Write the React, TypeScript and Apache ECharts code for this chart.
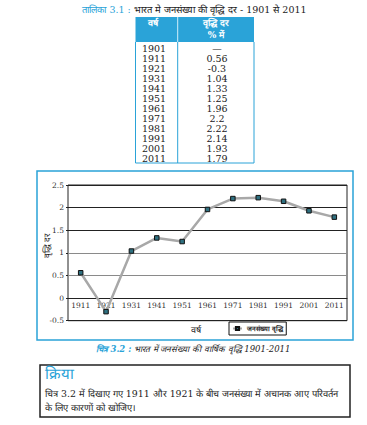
import React, { useEffect, useRef } from "react";
import * as echarts from "echarts";

const years = ["1901", "1911", "1921", "1931", "1941", "1951", "1961", "1971", "1981", "1991", "2001", "2011"];
const rateText = ["—", "0.56", "-0.3", "1.04", "1.33", "1.25", "1.96", "2.2", "2.22", "2.14", "1.93", "1.79"];
const rates: (number | null)[] = [null, 0.56, -0.3, 1.04, 1.33, 1.25, 1.96, 2.2, 2.22, 2.14, 1.93, 1.79];

const chartYears = years.slice(1);
const chartRates = rates.slice(1);

const seriesName = "जनसंख्या वृद्धि";
const tableTitle = "तालिका 3.1 :";
const tableTitleRest = " भारत मे जनसंख्या की वृद्धि दर - 1901 से 2011";
const headYear = "वर्ष";
const headRate1 = "वृद्धि दर";
const headRate2 = "% में";
const yName = "वृद्धि दर";
const xName = "वर्ष";
const captionLead = "चित्र 3.2 :";
const captionRest = " भारत में जनसंख्या की वार्षिक वृद्धि 1901-2011";
const boxTitle = "क्रिया";
const boxLine1 = "चित्र 3.2 में दिखाए गए 1911 और 1921 के बीच जनसंख्या में अचानक आए परिवर्तन";
const boxLine2 = "के लिए कारणों को खोजिए।";

const BLUE = "#2aa3d8";
const SERIF = "'DejaVu Serif', 'Liberation Serif', serif";

export default function App() {
  const ref = useRef<HTMLDivElement>(null);
  useEffect(() => {
    if (!ref.current) return;
    const chart = echarts.init(ref.current, null, { renderer: "svg" });

    const tableTop = 17;
    const headH = 25;
    const tL = 135.5;
    const tR = 254;
    const tMid = 177.7;
    const rowY0 = 48.3;
    const rowH = 10.06;
    const tBottom = 163;

    const gridTop = 185;
    const gridBottom = 104.3;
    const plotH = 425 - gridTop - gridBottom;
    const yMin = -0.5;
    const yMax = 2.5;
    const zeroOffset = (plotH * (0 - yMin)) / (yMax - yMin);

    const txt = (text: string, x: number, y: number, extra: any = {}, el: any = {}) => ({
      type: "text",
      ...el,
      style: {
        text, x, y, fontSize: 9, fontFamily: SERIF, fill: "#222",
        align: "center", verticalAlign: "middle", textAlign: "center", textVerticalAlign: "middle",
        ...extra,
      },
    });

    const tableRows: any[] = [];
    years.forEach((y, i) => {
      tableRows.push(txt(y, 154, rowY0 + i * rowH, { fontSize: 9.5 }));
      tableRows.push(txt(rateText[i], 217, rowY0 + i * rowH, { fontSize: 9.5 }));
    });

    chart.setOption({
      animation: false,
      grid: {
        left: 68, right: 20, top: gridTop, bottom: gridBottom,
        show: true, borderColor: "#222", borderWidth: 1, backgroundColor: "transparent",
      },
      xAxis: {
        type: "category",
        data: chartYears,
        boundaryGap: true,
        position: "bottom",
        offset: -zeroOffset,
        axisLine: { onZero: false, lineStyle: { color: "#222", width: 1 } },
        axisTick: { show: false },
        axisLabel: { interval: 0, fontSize: 7.5, fontFamily: SERIF, color: "#333", margin: 3 },
        splitLine: { show: false },
      },
      yAxis: {
        type: "value",
        min: yMin,
        max: yMax,
        interval: 0.5,
        axisLine: { show: false },
        axisTick: { show: true, length: 2, lineStyle: { color: "#222" } },
        axisLabel: { fontSize: 7.5, fontFamily: SERIF, color: "#333", margin: 4 },
        splitLine: {
          show: true,
          lineStyle: { color: ["#222", "#222", "#8a8a8a", "#8a8a8a", "#222", "#222", "#222"], width: 1 },
        },
      },
      legend: {
        show: true,
        left: 229,
        top: 322,
        padding: [3, 3, 3, 3],
        borderColor: "#111",
        borderWidth: 1,
        borderRadius: 0,
        itemWidth: 9,
        itemHeight: 4,
        itemGap: 2,
        textStyle: { fontSize: 6.5, fontFamily: SERIF, color: "#222", fontWeight: "bold" },
        data: [seriesName],
      },
      series: [
        {
          name: seriesName,
          type: "line",
          data: chartRates,
          symbol: "rect",
          symbolSize: 4.5,
          lineStyle: { color: "#a8a8a8", width: 2.5 },
          itemStyle: { color: "#2f7080", borderColor: "#111", borderWidth: 1 },
          z: 3,
        },
      ],
      graphic: [
        {
          type: "text",
          style: {
            text: `{b|${tableTitle}}${tableTitleRest}`,
            x: 194.5, y: 9, fontSize: 9.5, fontFamily: SERIF, fill: "#222",
            align: "center", verticalAlign: "middle", textAlign: "center", textVerticalAlign: "middle",
            rich: { b: { fill: BLUE, fontSize: 9.5, fontFamily: SERIF } },
          },
        },
        { type: "rect", shape: { x: tL, y: tableTop, width: tR - tL, height: headH }, style: { fill: BLUE } },
        { type: "line", shape: { x1: tMid, y1: tableTop, x2: tMid, y2: tableTop + headH }, style: { stroke: "#cfeefa", lineWidth: 1 } },
        txt(headYear, 153, 23, { fill: "#fff", fontWeight: "bold" }),
        txt(headRate1, 216, 23, { fill: "#fff", fontWeight: "bold" }),
        txt(headRate2, 216, 35, { fill: "#fff", fontWeight: "bold" }),
        { type: "line", shape: { x1: tL, y1: tableTop + headH, x2: tL, y2: tBottom }, style: { stroke: BLUE, lineWidth: 1 } },
        { type: "line", shape: { x1: tR, y1: tableTop + headH, x2: tR, y2: tBottom }, style: { stroke: BLUE, lineWidth: 1 } },
        { type: "line", shape: { x1: tMid, y1: tableTop + headH, x2: tMid, y2: tBottom }, style: { stroke: BLUE, lineWidth: 1 } },
        { type: "line", shape: { x1: tL, y1: tBottom, x2: tR, y2: tBottom }, style: { stroke: BLUE, lineWidth: 1 } },
        ...tableRows,
        { type: "rect", shape: { x: 37, y: 171, width: 316, height: 169 }, style: { fill: "none", stroke: BLUE, lineWidth: 1.5 } },
        txt(yName, 0, 0, { fontSize: 8.5 }, { x: 47, y: 246, rotation: Math.PI / 2 }),
        txt(xName, 196, 330, { fontSize: 9 }),
        {
          type: "text",
          style: {
            text: `{b|${captionLead}}${captionRest}`,
            x: 193, y: 349, fontSize: 8.5, fontFamily: SERIF, fontStyle: "italic", fill: "#222",
            align: "center", verticalAlign: "middle", textAlign: "center", textVerticalAlign: "middle",
            rich: { b: { fill: BLUE, fontSize: 8.5, fontFamily: SERIF, fontStyle: "italic", fontWeight: "bold" } },
          },
        },
        { type: "rect", shape: { x: 40, y: 365, width: 310, height: 52 }, style: { fill: "#fff", stroke: "#222", lineWidth: 1.5 } },
        txt(boxTitle, 45, 374, { fontSize: 15, fill: BLUE, align: "left", textAlign: "left" }),
        txt(boxLine1, 45, 393, { fontSize: 9.4, align: "left", textAlign: "left" }),
        txt(boxLine2, 45, 407, { fontSize: 9.4, align: "left", textAlign: "left" }),
      ],
    });

    return () => chart.dispose();
  }, []);
  return <div ref={ref} style={{ position: "absolute", left: 0, top: 0, width: 367, height: 425 }} />;
}
